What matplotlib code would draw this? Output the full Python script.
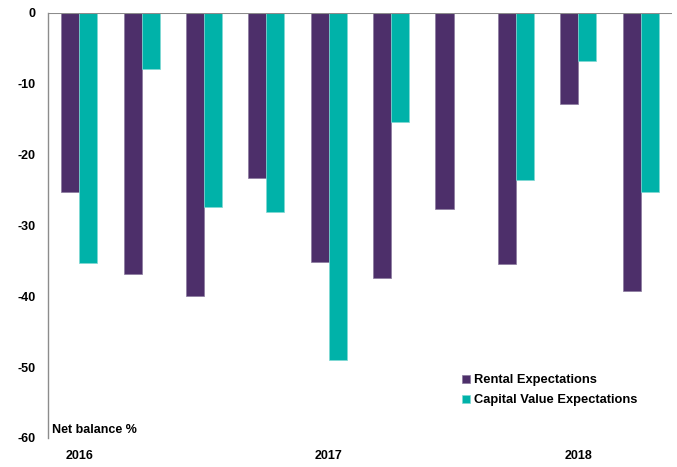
import numpy as np
import matplotlib.pyplot as plt

plt.rcParams['font.family'] = ['Liberation Sans', 'DejaVu Sans']
plt.rcParams['font.weight'] = 'bold'
plt.rcParams['axes.unicode_minus'] = False

rental = [-25.3, -36.9, -40.0, -23.3, -35.2, -37.4, -27.7, -35.5, -12.9, -39.3]
capital = [-35.3, -7.9, -27.4, -28.1, -49.0, -15.4, np.nan, -23.6, -6.9, -25.3]
year_pos = [0, 4, 8]
year_labels = ['2016', '2017', '2018']

fig = plt.figure(figsize=(6.77, 4.67), dpi=100)
ax = fig.add_axes([0.0709, 0.0621, 0.9217, 0.9111])

x = np.arange(len(rental))
w = 0.29
ax.bar(x - w / 2, rental, w, color='#4D2F6A', edgecolor='#8a7a9e', linewidth=0.5,
       label='Rental Expectations')
ax.bar(x + w / 2, capital, w, color='#00B2A9', edgecolor='#7fd8d3', linewidth=0.5,
       label='Capital Value Expectations')

ax.set_xlim(-0.5, len(rental) - 0.5)
ax.set_ylim(-60, 0)
ax.set_yticks(range(-60, 1, 10))
ax.axhline(0, color='#8c8c8c', linewidth=1.5, zorder=5)

for s in ['top', 'right', 'bottom']:
    ax.spines[s].set_visible(False)
ax.spines['left'].set_color('#8c8c8c')
ax.spines['left'].set_linewidth(1)

ax.set_xticks(year_pos)
ax.set_xticklabels(year_labels)
ax.tick_params(axis='x', length=0, pad=9, labelsize=9)
ax.tick_params(axis='y', length=0, pad=9, labelsize=9)

ax.text(0.007, 0.005, 'Net balance %', transform=ax.transAxes, fontsize=9,
        fontweight='bold', va='bottom', ha='left')

ax.legend(loc='lower left', bbox_to_anchor=(0.655, 0.062), frameon=False, fontsize=9.3,
          handlelength=0.6, handleheight=0.6, handletextpad=0.3, labelspacing=0.62,
          borderaxespad=0)

fig.savefig('out.png', dpi=100)
